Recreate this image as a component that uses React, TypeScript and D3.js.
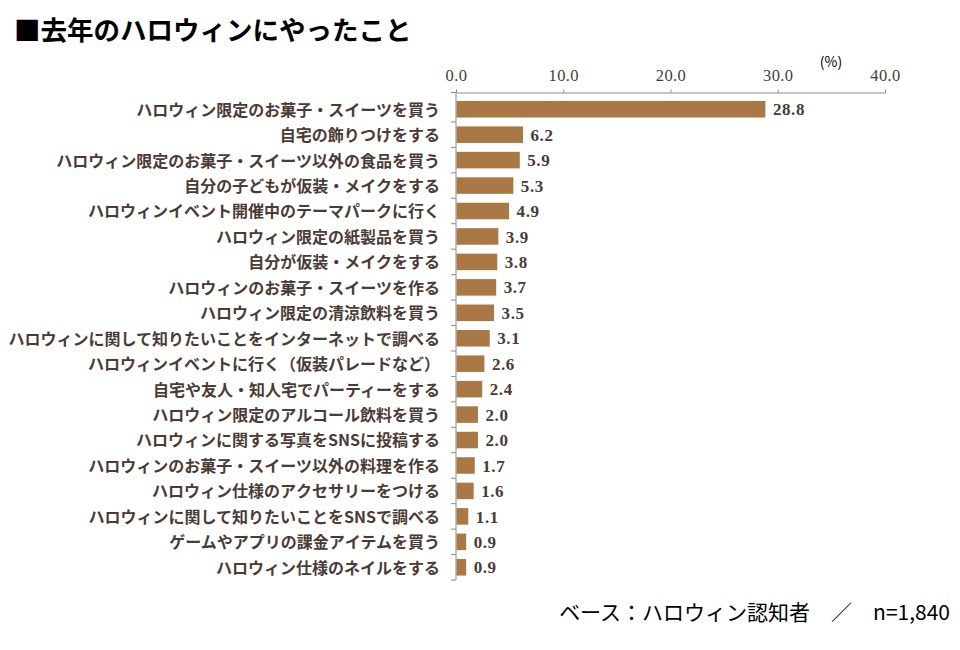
import { useEffect, useRef } from 'react';
import * as d3 from 'd3';

const categories: string[] = [
  'ハロウィン限定のお菓子・スイーツを買う',
  '自宅の飾りつけをする',
  'ハロウィン限定のお菓子・スイーツ以外の食品を買う',
  '自分の子どもが仮装・メイクをする',
  'ハロウィンイベント開催中のテーマパークに行く',
  'ハロウィン限定の紙製品を買う',
  '自分が仮装・メイクをする',
  'ハロウィンのお菓子・スイーツを作る',
  'ハロウィン限定の清涼飲料を買う',
  'ハロウィンに関して知りたいことをインターネットで調べる',
  'ハロウィンイベントに行く（仮装パレードなど）',
  '自宅や友人・知人宅でパーティーをする',
  'ハロウィン限定のアルコール飲料を買う',
  'ハロウィンに関する写真をSNSに投稿する',
  'ハロウィンのお菓子・スイーツ以外の料理を作る',
  'ハロウィン仕様のアクセサリーをつける',
  'ハロウィンに関して知りたいことをSNSで調べる',
  'ゲームやアプリの課金アイテムを買う',
  'ハロウィン仕様のネイルをする'
];

const values: number[] = [28.8, 6.2, 5.9, 5.3, 4.9, 3.9, 3.8, 3.7, 3.5, 3.1, 2.6, 2.4, 2.0, 2.0, 1.7, 1.6, 1.1, 0.9, 0.9];

const xTicks: number[] = [0, 10, 20, 30, 40];

const TITLE = '■去年のハロウィンにやったこと';
const BASE_NOTE = 'ベース：ハロウィン認知者　／　n=1,840';

const BAR_COLOR = '#a97844';
const TEXT_COLOR = '#4b3a35';
const AXIS_COLOR = '#8c8c8c';
const SANS = '"Noto Sans CJK JP", "Noto Sans", sans-serif';
const SERIF = '"Liberation Serif", "DejaVu Serif", serif';

const HalloweenChart = () => {
  const svgRef = useRef<SVGSVGElement>(null);

  useEffect(() => {
    const root = d3.select(svgRef.current);
    root.selectAll('*').remove();

    const left = 456;
    const right = 885;
    const top = 92.5;
    const bottom = 580;

    const x = d3.scaleLinear().domain([0, 40]).range([left, right]);
    // bars sit a little below the axis line, so the band range starts lower
    const y = d3
      .scaleBand<string>()
      .domain(categories)
      .range([96.5, bottom])
      .paddingInner(0.35)
      .paddingOuter(0.175);

    // Title
    root
      .append('text')
      .attr('x', 14)
      .attr('y', 40)
      .style('font-family', SANS)
      .style('font-size', '26.5px')
      .style('font-weight', 'bold')
      .attr('fill', '#000')
      .text(TITLE);

    // Unit label
    root
      .append('text')
      .attr('x', 831)
      .attr('y', 67)
      .attr('text-anchor', 'middle')
      .style('font-family', SANS)
      .style('font-size', '14px')
      .attr('fill', '#000')
      .text('(%)');

    // Top axis
    const axisTop = root
      .append('g')
      .attr('transform', `translate(0,${top})`)
      .call(
        d3
          .axisTop(x)
          .tickValues(xTicks)
          .tickFormat(d3.format('.1f'))
          .tickSize(3)
          .tickPadding(9)
      );
    axisTop.select('.domain').attr('stroke', AXIS_COLOR);
    axisTop.selectAll('.tick line').attr('stroke', AXIS_COLOR);
    axisTop
      .selectAll('.tick text')
      .style('font-family', SERIF)
      .style('font-size', '16.5px')
      .style('letter-spacing', '0.4px')
      .attr('fill', TEXT_COLOR);

    // Category axis: ticks between bars plus both ends
    const gap = y.step() - y.bandwidth();
    const boundaries = [
      top,
      ...categories.slice(1).map(c => (y(c) ?? 0) - gap / 2),
      bottom
    ];
    root
      .append('line')
      .attr('x1', left)
      .attr('x2', left)
      .attr('y1', top)
      .attr('y2', bottom)
      .attr('stroke', AXIS_COLOR);
    root
      .append('g')
      .selectAll('line')
      .data(boundaries)
      .join('line')
      .attr('x1', left - 5)
      .attr('x2', left)
      .attr('y1', d => d)
      .attr('y2', d => d)
      .attr('stroke', AXIS_COLOR);

    // Category labels
    root
      .append('g')
      .selectAll('text')
      .data(categories)
      .join('text')
      .attr('x', 440)
      .attr('y', d => (y(d) ?? 0) + y.bandwidth() / 2)
      .attr('dy', '0.4em')
      .attr('text-anchor', 'end')
      .style('font-family', SANS)
      .style('font-size', '16px')
      .style('font-weight', 'bold')
      .attr('fill', TEXT_COLOR)
      .text(d => d);

    // Bars
    root
      .append('g')
      .selectAll('rect')
      .data(values)
      .join('rect')
      .attr('x', x(0) + 0.5)
      .attr('y', (d, i) => y(categories[i]) ?? 0)
      .attr('width', d => x(d) - x(0))
      .attr('height', y.bandwidth())
      .attr('fill', BAR_COLOR);

    // Value labels
    root
      .append('g')
      .selectAll('text')
      .data(values)
      .join('text')
      .attr('x', d => x(d) + 8)
      .attr('y', (d, i) => (y(categories[i]) ?? 0) + y.bandwidth() / 2)
      .attr('dy', '0.36em')
      .style('font-family', SERIF)
      .style('font-size', '17px')
      .style('font-weight', 'bold')
      .style('letter-spacing', '0.6px')
      .attr('fill', TEXT_COLOR)
      .text(d => d.toFixed(1));

    // Base note
    root
      .append('text')
      .attr('x', 950)
      .attr('y', 620)
      .attr('text-anchor', 'end')
      .style('font-family', SANS)
      .style('font-size', '21px')
      .attr('fill', '#000')
      .text(BASE_NOTE);
  }, []);

  return <svg ref={svgRef} width={960} height={650} style={{ display: 'block' }}></svg>;
};

export default function App() {
  return (
    <div style={{ margin: -8, width: 960, height: 650, background: '#fff' }}>
      <HalloweenChart />
    </div>
  );
}
